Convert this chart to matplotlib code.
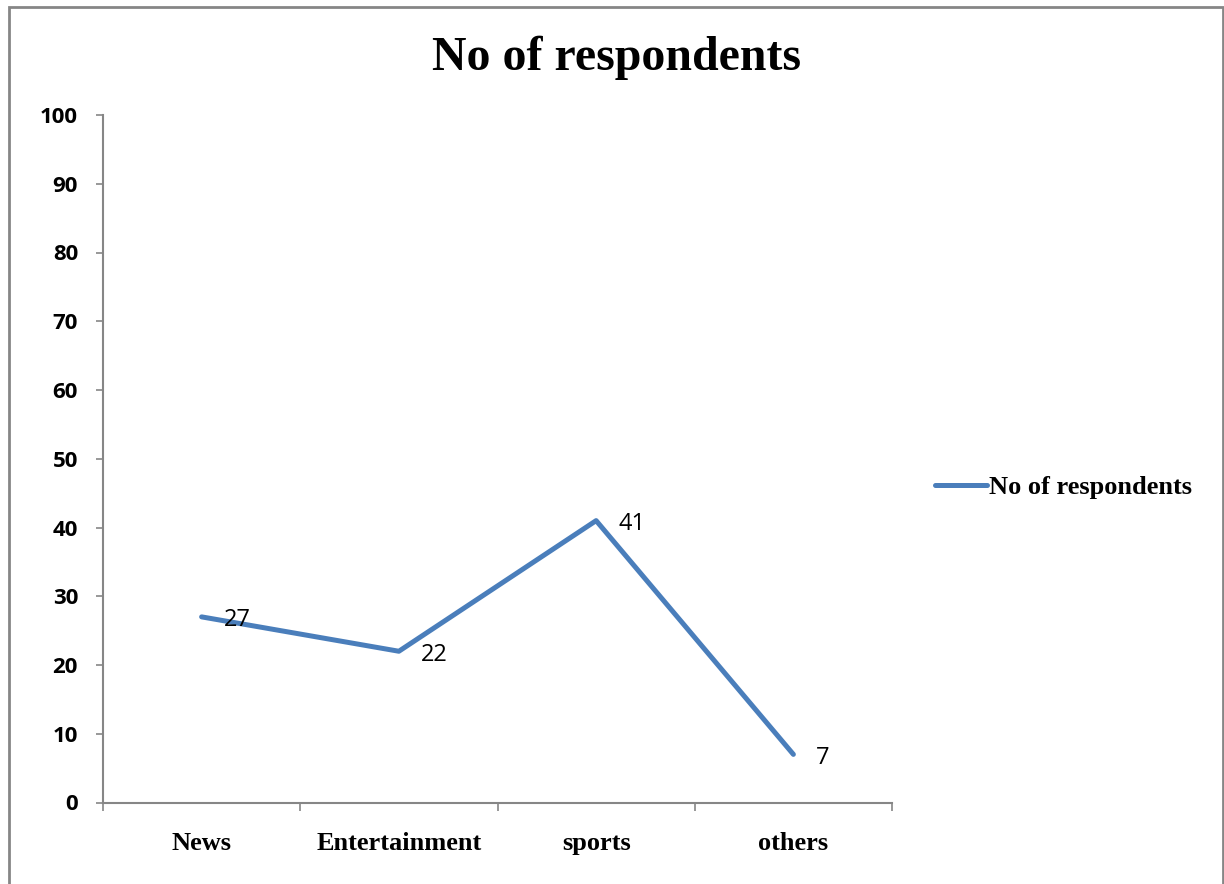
import matplotlib
matplotlib.use('Agg')
from matplotlib import pylab as plt
from matplotlib.patches import Rectangle

categories = ['News', 'Entertainment', 'sports', 'others']
respondents = [27, 22, 41, 7]
yTicks = list(range(0, 101, 10))

lineColor = '#4a7ebb'
axisColor = '#868686'
W, H = 1224, 884

fig = plt.figure(figsize=(W / 100, H / 100), dpi=100)
ax = fig.add_axes([103 / W, 1 - 802.5 / H, (892 - 103) / W, (802.5 - 115) / H])

xs = list(range(len(categories)))
ax.plot(xs, respondents, color=lineColor, linewidth=3.6, solid_capstyle='round',
        label='No of respondents')
for x, v in zip(xs, respondents):
    ax.annotate(str(v), (x, v), xytext=(16, -2.5), textcoords='offset points',
                ha='left', va='center', fontsize=17, family='Open Sans')

ax.set_xlim(-0.5, len(categories) - 0.5)
ax.set_ylim(0, 100)
ax.set_yticks(yTicks)
ax.set_yticklabels([str(t) for t in yTicks], fontsize=16, fontweight='bold', family='Open Sans')
ax.set_xticks(xs)
ax.set_xticklabels(categories, fontsize=19, fontweight='bold', family='Liberation Serif')
ax.set_xticks([i - 0.5 for i in range(len(categories) + 1)], minor=True)
ax.tick_params(axis='x', which='major', length=0, pad=21)
ax.tick_params(axis='x', which='minor', length=6, width=1.2, color=axisColor)
ax.tick_params(axis='y', length=5, width=1.2, color=axisColor, pad=13)

for side in ('top', 'right'):
    ax.spines[side].set_visible(False)
for side in ('left', 'bottom'):
    ax.spines[side].set_color(axisColor)
    ax.spines[side].set_linewidth(1.5)

fig.text(616 / W, 1 - 58 / H, 'No of respondents', ha='center', va='center',
         fontsize=34.5, fontweight='bold', family='Liberation Serif')

ax.legend(loc='center left', bbox_to_anchor=(924 / W, 1 - 487 / H),
          bbox_transform=fig.transFigure, frameon=False, handlelength=2.0,
          handletextpad=0.05, borderaxespad=0,
          prop={'family': 'Liberation Serif', 'weight': 'bold', 'size': 19})

fig.patches.append(Rectangle((9 / W, -0.01), (1223 - 9) / W, 1 - 7 / H + 0.01,
                             transform=fig.transFigure, fill=False,
                             edgecolor=axisColor, linewidth=2))

fig.savefig('out.png', dpi=100)
plt.close(fig)
